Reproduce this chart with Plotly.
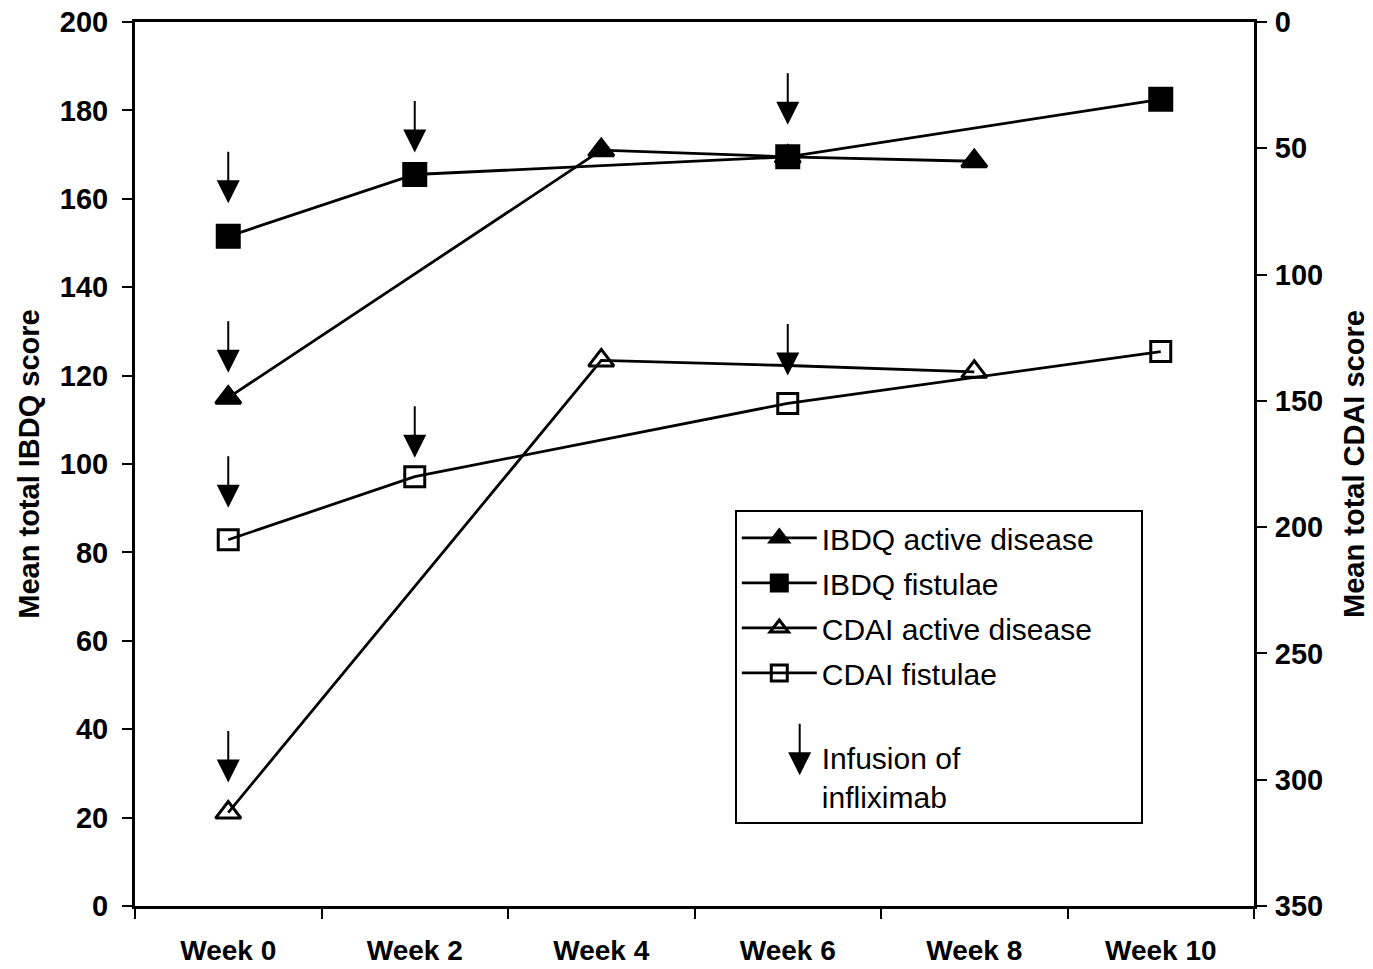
import plotly.graph_objects as go

weeks = ["Week 0", "Week 2", "Week 4", "Week 6", "Week 8", "Week 10"]
ibdq_active = [115, None, 171, 169.5, 168.5, None]
ibdq_fistulae = [151.5, 165.5, None, 169.5, None, 182.5]
cdai_active = [313, None, 134, 136, 138.5, None]
cdai_fistulae = [205, 180, None, 151, None, 130.5]

left_ticks = [0, 20, 40, 60, 80, 100, 120, 140, 160, 180, 200]
right_ticks = [0, 50, 100, 150, 200, 250, 300, 350]

# infusion arrows: (week, series name)
infusions = [
    ("Week 0", "IBDQ fistulae"),
    ("Week 0", "IBDQ active disease"),
    ("Week 0", "CDAI fistulae"),
    ("Week 0", "CDAI active disease"),
    ("Week 2", "IBDQ fistulae"),
    ("Week 2", "CDAI fistulae"),
    ("Week 6", "IBDQ fistulae"),
    ("Week 6", "CDAI active disease"),
]
# style: pixel gap between point centre and arrow tip
arrow_gap = [33, 25, 32, 30, 22, 19, 32, -10]
ARROW_LEN = 53

FONT = "Liberation Sans, Arial, sans-serif"
PAD = "\u00a0" * 5  # legend right padding (style)

series = {
    "IBDQ active disease": dict(y=ibdq_active, axis="y", symbol="triangle-up", size=22),
    "IBDQ fistulae": dict(y=ibdq_fistulae, axis="y", symbol="square", size=22),
    "CDAI active disease": dict(y=cdai_active, axis="y2", symbol="triangle-up-open", size=22),
    "CDAI fistulae": dict(y=cdai_fistulae, axis="y2", symbol="square-open", size=20),
}
# marker hidden where an arrowhead sits on the line (style only)
hidden = {("CDAI active disease", "Week 6")}

fig = go.Figure()
for i, (name, s) in enumerate(series.items()):
    sizes = [0 if (name, w) in hidden else s["size"] for w in weeks]
    fig.add_trace(go.Scatter(
        x=weeks, y=s["y"], name=name + (PAD if i == 0 else ""), yaxis=s["axis"],
        mode="lines+markers", connectgaps=True, legendgroup=f"g{i}",
        line=dict(color="black", width=2.8),
        marker=dict(symbol=s["symbol"], size=sizes, color="black", opacity=1,
                    line=dict(color="black", width=3)),
    ))

fig.add_trace(go.Scatter(
    x=[None], y=[None], name=" <br>Infusion of<br>infliximab", mode="lines",
    line=dict(color="rgba(0,0,0,0)", width=0), legendgroup="g9",
))

for (wk, sname), gap in zip(infusions, arrow_gap):
    s = series[sname]
    yv = s["y"][weeks.index(wk)]
    fig.add_annotation(
        x=wk, y=yv, xref="x", yref=s["axis"], text="", showarrow=True,
        ax=0, ay=-ARROW_LEN, yshift=gap, standoff=0,
        arrowhead=2, arrowsize=2.3, arrowwidth=2, arrowcolor="black",
    )

# legend arrow
fig.add_annotation(
    x=0.594, y=0.148, xref="paper", yref="paper", text="", showarrow=True,
    ax=0, ay=-ARROW_LEN, standoff=0,
    arrowhead=2, arrowsize=2.3, arrowwidth=2, arrowcolor="black",
)

tickfont = dict(family=FONT, size=29, color="black", weight="bold")
xtickfont = dict(family=FONT, size=28, color="black", weight="bold")
titlefont = dict(family=FONT, size=29, color="black", weight="bold")

fig.update_layout(
    width=1373, height=969,
    margin=dict(l=135, r=119, t=22, b=63),
    paper_bgcolor="white", plot_bgcolor="white",
    showlegend=True,
    legend=dict(
        x=0.536, y=0.448, xanchor="left", yanchor="top",
        bgcolor="white", bordercolor="black", borderwidth=2,
        font=dict(family=FONT, size=30, color="black"),
        tracegroupgap=3, traceorder="grouped", itemsizing="trace", itemwidth=75,
    ),
    xaxis=dict(
        type="category", categoryorder="array", categoryarray=weeks, range=[-0.5, 5.5],
        tickson="boundaries", ticks="outside", ticklen=10, tickwidth=2, tickcolor="black",
        showline=True, linecolor="black", linewidth=3, mirror=True, automargin=False,
        showgrid=False, zeroline=False, tickfont=xtickfont, ticklabelstandoff=17,
    ),
    yaxis=dict(
        range=[0, 200], tickvals=left_ticks, ticks="outside", ticklen=10, tickwidth=2,
        tickcolor="black", showline=True, linecolor="black", linewidth=3, automargin=False,
        showgrid=False, zeroline=False, tickfont=tickfont, ticklabelstandoff=8,
        title=dict(text="Mean total IBDQ score", font=titlefont, standoff=12),
    ),
    yaxis2=dict(
        range=[350, 0], tickvals=right_ticks, overlaying="y", side="right",
        ticks="outside", ticklen=10, tickwidth=2, tickcolor="black", automargin=False,
        showline=True, linecolor="black", linewidth=3,
        showgrid=False, zeroline=False, tickfont=tickfont, ticklabelstandoff=2,
        title=dict(text="Mean total CDAI score", font=titlefont, standoff=22),
    ),
)

fig.write_html("out.html")
